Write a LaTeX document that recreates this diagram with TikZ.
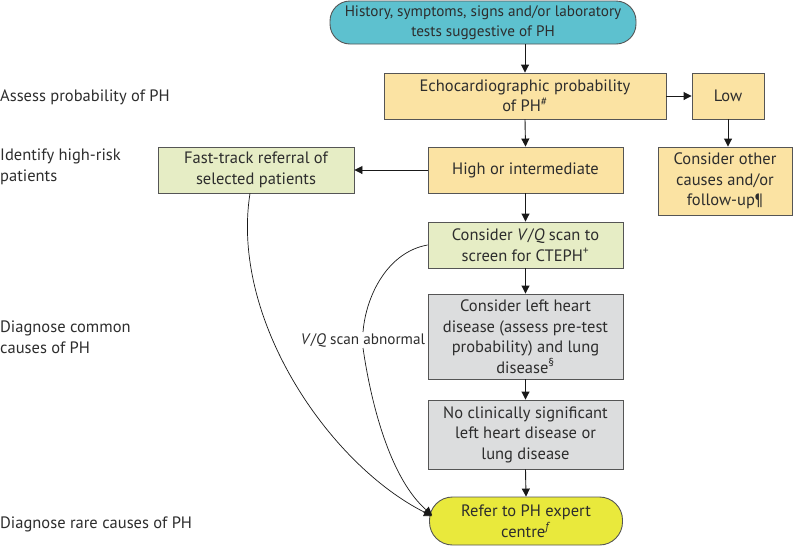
\documentclass[tikz,border=0pt]{standalone}
\usepackage{fontspec}
\setmainfont{PT Sans}
\usepackage{xcolor}
\usetikzlibrary{positioning,shapes,arrows.meta}
\definecolor{startcol}{RGB}{93,193,207}
\definecolor{echocol}{RGB}{251,227,163}
\definecolor{greencol}{RGB}{230,237,197}
\definecolor{graycol}{RGB}{220,221,222}
\definecolor{refcol}{RGB}{233,233,60}
\definecolor{edgecol}{RGB}{85,85,85}
\definecolor{txtcol}{RGB}{45,45,45}

\begin{document}
\begin{tikzpicture}[x=1pt,y=-1pt,
							box/.style = {draw=edgecol, line width=0.9pt, align=center, inner sep=0pt, text=txtcol, font=\fontsize{16.5}{20.5}\selectfont},
							stage/.style = {anchor=west, align=left, inner sep=0pt, text=txtcol, font=\fontsize{16.5}{20.5}\selectfont},
							arrow/.style = {-{Triangle[length=8pt,width=8pt]}, line width=0.9pt, draw=black!90}]
			\useasboundingbox (0,0) rectangle (797,547);

			% stages on the left
			\node[stage] (s1) at (0, 97) {Assess probability of PH};
			\node[stage] (s2) at (0, 167) {Identify high-risk\\patients};
			\node[stage] (s3) at (0, 337) {Diagnose common\\causes of PH};
			\node[stage] (s4) at (0, 524) {Diagnose rare causes of PH};

			% boxes
			\node[box, fill=startcol, rounded corners=20pt, minimum width=306pt, minimum height=43pt, font=\fontsize{15.2}{20}\selectfont] (start) at (483, 22.5) {History, symptoms, signs and/or laboratory\\tests suggestive of PH};
			\node[box, fill=echocol, minimum width=282pt, minimum height=46pt] (echo) at (525, 96) {Echocardiographic probability\\of PH\textsuperscript{\#}};
			\node[box, fill=echocol, minimum width=72pt, minimum height=46pt] (low) at (728, 96) {Low};
			\node[box, fill=echocol, minimum width=195pt, minimum height=46pt] (high) at (525.5, 170) {High or intermediate};
			\node[box, fill=echocol, minimum width=134pt, minimum height=68pt] (other) at (725, 181) {Consider other\\causes and/or\\follow-up¶};
			\node[box, fill=greencol, minimum width=196pt, minimum height=46pt] (fast) at (256, 170) {Fast-track referral of\\selected patients};
			\node[box, fill=greencol, minimum width=195pt, minimum height=46pt] (vq) at (525.5, 245) {Consider \textit{V}/\textit{Q} scan to\\screen for CTEPH\textsuperscript{+}};
			\node[box, fill=graycol, minimum width=195pt, minimum height=85pt] (lhd) at (525.5, 336.5) {Consider left heart\\disease (assess pre-test\\probability) and lung\\disease\textsuperscript{§}};
			\node[box, fill=graycol, minimum width=195pt, minimum height=69pt] (noclin) at (525.5, 434.5) {No clinically significant\\left heart disease or\\lung disease};
			\node[box, fill=refcol, rounded corners=23pt, minimum width=193pt, minimum height=48pt] (refer) at (526, 521) {Refer to PH expert\\centre\textsuperscript{\textit{f}}};
			\node[text=txtcol, font=\fontsize{15.2}{20}\selectfont, inner sep=1pt] (vqlab) at (363, 340) {\textit{V}/\textit{Q} scan abnormal};

			% connectors
			\draw[arrow] (echo.north |- start.south) to (echo.north);
			\draw[arrow] (echo.east) to (low.west);
			\draw[arrow] (low.south) to (low.south |- other.north);
			\draw[arrow] (echo.south) to (high.north);
			\draw[arrow] (high.west) to (fast.east);
			\draw[arrow] (high.south) to (vq.north);
			\draw[arrow] (vq.south) to (lhd.north);
			\draw[arrow] (lhd.south) to (noclin.north);
			\draw[arrow] (noclin.south) to (refer.north);
			\draw[arrow, line width=0.7pt] ([xshift=-6pt]fast.south) .. controls (230, 320) and (330, 465) .. ([shift={(3,-5)}]refer.west);
			\draw[line width=0.7pt, draw=black!90] (vq.west) .. controls (388, 252) and (366, 295) .. (vqlab.north);
			\draw[arrow, line width=0.7pt] (vqlab.south) .. controls (372, 410) and (392, 480) .. ([shift={(3,-6)}]refer.west);
		\end{tikzpicture}
\end{document}
